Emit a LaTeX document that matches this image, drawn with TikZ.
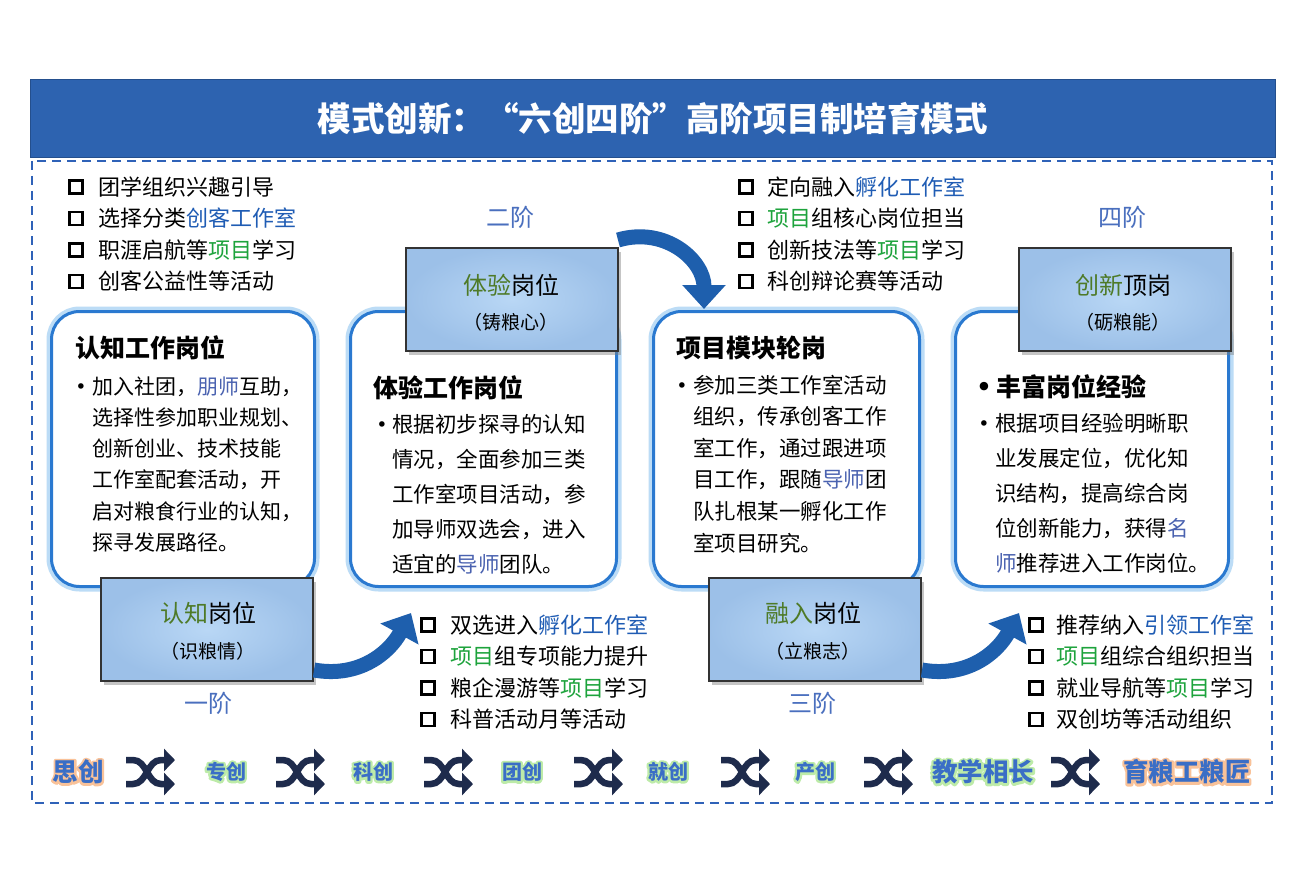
\documentclass[tikz,border=0pt]{standalone}
\usepackage{fontspec}
\setmainfont{Noto Sans CJK SC}
\newfontfamily\bulfont{DejaVu Sans}
\usetikzlibrary{arrows.meta,shadows}
\definecolor{titlebg}{HTML}{2D63B0}
\definecolor{framec}{HTML}{2F62B8}
\definecolor{cardc}{HTML}{2A79D0}
\definecolor{glowc}{HTML}{BCDCF6}
\definecolor{boxfill}{HTML}{B9D7F5}
\definecolor{boxedge}{HTML}{9CC0E8}
\definecolor{olivec}{HTML}{4E7A27}
\definecolor{stagec}{HTML}{4A6FBE}
\definecolor{wordblue}{HTML}{1F5CB4}
\definecolor{wordgreen}{HTML}{1DA33C}
\definecolor{tutorc}{HTML}{4A62B0}
\definecolor{arrowc}{HTML}{1E5FAD}
\definecolor{navyc}{HTML}{1E2B4C}
\definecolor{rowtext}{HTML}{3A6EC6}
\newcommand\bw[1]{\textcolor{wordblue}{#1}}
\newcommand\gw[1]{\textcolor{wordgreen}{#1}}
\newcommand\tw[1]{\textcolor{tutorc}{#1}}
\newcommand\ow[1]{\textcolor{olivec}{#1}}
\newcommand\setfs[1]{\fontsize{#1}{#1}\selectfont}
% glow: a stroked-only copy underneath, then the filled text
\newcommand\glowtext[2]{\rlap{\special{pdf:literal direct 1 Tr 4.5 w 1 j 1 J #1 RG}#2\special{pdf:literal direct 0 Tr}}#2}
\newcommand\orglow{0.976 0.76 0.60}
\newcommand\grglow{0.74 0.92 0.66}
\begin{document}
\begin{tikzpicture}[x=1pt,y=-1pt,
  titlebar/.style={fill=titlebg, draw=titlebg!80!black, line width=1, minimum width=1245, minimum height=78, text=white, font=\bfseries\setfs{33.5}, inner sep=0},
  frame/.style={draw=framec, line width=2.5, dash pattern=on 9pt off 6pt},
  card/.style={draw=cardc, line width=3, rounded corners=28, fill=white, preaction={draw=glowc, line width=10}, inner sep=0},
  lbox/.style={draw=black!80, line width=2, inner color=boxfill, outer color=boxedge, minimum width=212, minimum height=103, anchor=north west, inner sep=0, drop shadow={shadow xshift=3pt, shadow yshift=-4pt, opacity=0.45}},
  chk/.style={draw=black, line width=2.8, minimum size=13, inner sep=0},
  itm/.style={anchor=base west, font=\setfs{22}, inner sep=0},
  ctitle/.style={anchor=base west, font=\bfseries\setfs{25}, inner sep=0},
  bul/.style={anchor=base, font=\bulfont\setfs{19}, inner sep=0},
  bodyA/.style={anchor=base west, font=\setfs{21}, inner sep=0},
  bodyB/.style={anchor=base west, font=\setfs{21.5}, inner sep=0},
  btitle/.style={font=\setfs{24}, inner sep=0},
  bsub/.style={font=\setfs{19}, inner sep=0},
  stage/.style={font=\setfs{24}, text=stagec, inner sep=0},
  bigarrow/.style={draw=arrowc, line width=15, -{Triangle[length=24pt,width=42pt]}},
  shuf/.style={draw=navyc, line width=6.5, -{Triangle[length=11pt,width=22pt]}},
  rowsmall/.style={font=\bfseries\setfs{20}, text=rowtext, inner sep=0},
  rowbig/.style={font=\bfseries\setfs{25.5}, text=rowtext, inner sep=0},
  shuffle/.pic={
    \draw[shuf] (-24,-12) -- (-17,-12) .. controls (-3,-12) and (-3,12) .. (11,12) -- (25,12);
    \draw[shuf] (-24,12) -- (-17,12) .. controls (-3,12) and (-3,-12) .. (11,-12) -- (25,-12);
  }
]
\useasboundingbox (0,0) rectangle (1300,869);
\fill[white] (0,0) rectangle (1300,869);

% title and frame
\node[titlebar] (title) at (652.5,119) {模式创新：“六创四阶”高阶项目制培育模式};
\draw[frame] (32,161) rectangle (1272,803);

% cards
\node[card, minimum width=263, minimum height=275, anchor=north west] (c1) at (50,310) {};
\node[card, minimum width=266, minimum height=275, anchor=north west] (c2) at (349,310) {};
\node[card, minimum width=266, minimum height=275, anchor=north west] (c3) at (652,310) {};
\node[card, minimum width=273, minimum height=275, anchor=north west] (c4) at (954,310) {};

% label boxes
\node[lbox] (b1) at (100,577) {};
\node[lbox] (b2) at (405,247) {};
\node[lbox] (b3) at (708,577) {};
\node[lbox] (b4) at (1018,247) {};

% arrows
\coordinate (e1) at (411,613);
\coordinate (e2) at (704,309);
\coordinate (e3) at (1019,613);
\draw[bigarrow] ([yshift=12pt]b1.south east) .. controls +(45,8) and +(-22,40) .. (e1);
\draw[bigarrow] ([xshift=-1pt,yshift=7pt]b2.north east) .. controls +(48,-14) and +(0,-48) .. (e2);
\draw[bigarrow] ([yshift=12pt]b3.south east) .. controls +(45,8) and +(-22,40) .. (e3);

\node[btitle] (b1a) at (208,613) {\ow{认知}岗位};
\node[bsub] (b1b) at (208,651) {（识粮情）};
\node[btitle] (b2a) at (511,285) {\ow{体验}岗位};
\node[bsub] (b2b) at (511,322) {（铸粮心）};
\node[btitle] (b3a) at (813,613) {\ow{融入}岗位};
\node[bsub] (b3b) at (813,651) {（立粮志）};
\node[btitle] (b4a) at (1123,285) {\ow{创新}顶岗};
\node[bsub] (b4b) at (1123,322) {（砺粮能）};

% stage labels
\node[stage] (s1) at (208,703) {一阶};
\node[stage] (s2) at (510,217) {二阶};
\node[stage] (s3) at (812,703) {三阶};
\node[stage] (s4) at (1122,217) {四阶};

% check lists
\foreach \txt [count=\i] in {团学组织兴趣引导, 选择分类\bw{创客工作室}, 职涯启航等\gw{项目}学习, 创客公益性等活动}{
  \node[chk] (ka\i) at (76,{187+(\i-1)*31.5}) {};
  \node[itm] (la\i) at (98,{195+(\i-1)*31.5}) {\txt};
}
\foreach \txt [count=\i] in {定向融入\bw{孵化工作室}, \gw{项目}组核心岗位担当, 创新技法等\gw{项目}学习, 科创辩论赛等活动}{
  \node[chk] (kb\i) at (746,{187+(\i-1)*31.5}) {};
  \node[itm] (lb\i) at (767,{195+(\i-1)*31.5}) {\txt};
}
\foreach \txt [count=\i] in {双选进入\bw{孵化工作室}, \gw{项目}组专项能力提升, 粮企漫游等\gw{项目}学习, 科普活动月等活动}{
  \node[chk] (kc\i) at (428,{625+(\i-1)*31.5}) {};
  \node[itm] (lc\i) at (450,{633+(\i-1)*31.5}) {\txt};
}
\foreach \txt [count=\i] in {推荐纳入\bw{引领工作室}, \gw{项目}组综合组织担当, 就业导航等\gw{项目}学习, 双创坊等活动组织}{
  \node[chk] (kd\i) at (1036,{625+(\i-1)*31.5}) {};
  \node[itm] (ld\i) at (1056,{633+(\i-1)*31.5}) {\txt};
}

% card 1
\node[ctitle] (c1t) at (75,357) {认知工作岗位};
\node[bul] (c1u) at (81,393) {•};
\foreach \txt [count=\i] in {加入社团，\tw{朋师}互助，, 选择性参加职业规划、, 创新创业、技术技能, 工作室配套活动，开, 启对粮食行业的认知，, 探寻发展路径。}{
  \node[bodyA] (c1l\i) at (92,{394+(\i-1)*31.3}) {\txt};
}
% card 2
\node[ctitle] (c2t) at (373,397) {体验工作岗位};
\node[bul] (c2u) at (382,431) {•};
\foreach \txt [count=\i] in {根据初步探寻的认知, 情况，全面参加三类, 工作室项目活动，参, 加导师双选会，进入, 适宜的\tw{导师}团队。}{
  \node[bodyB] (c2l\i) at (392,{432+(\i-1)*35}) {\txt};
}
% card 3
\node[ctitle] (c3t) at (676,357) {项目模块轮岗};
\node[bul] (c3u) at (682,392) {•};
\foreach \txt [count=\i] in {参加三类工作室活动, 组织，传承创客工作, 室工作，通过跟进项, 目工作，跟随\tw{导师}团, 队扎根某一孵化工作, 室项目研究。}{
  \node[bodyB] (c3l\i) at (693,{393+(\i-1)*31.6}) {\txt};
}
% card 4
\node[bul, font=\bulfont\bfseries\setfs{24}] (c4u0) at (984,395) {•};
\node[ctitle] (c4t) at (996,396) {丰富岗位经验};
\node[bul] (c4u) at (984,430) {•};
\foreach \txt [count=\i] in {根据项目经验明晰职, 业发展定位，优化知, 识结构，提高综合岗, 位创新能力，获得\tw{名}, \tw{师}推荐进入工作岗位。}{
  \node[bodyB] (c4l\i) at (995,{431+(\i-1)*35}) {\txt};
}

% bottom row
\node[rowbig] (r1) at (78,772) {\glowtext{\orglow}{思创}};
\pic (sh1) at (150,772) {shuffle};
\node[rowsmall] (r2) at (226,772) {\glowtext{\grglow}{专创}};
\pic (sh2) at (300,772) {shuffle};
\node[rowsmall] (r3) at (373,772) {\glowtext{\grglow}{科创}};
\pic (sh3) at (448,772) {shuffle};
\node[rowsmall] (r4) at (522,772) {\glowtext{\grglow}{团创}};
\pic (sh4) at (598,772) {shuffle};
\node[rowsmall] (r5) at (668,772) {\glowtext{\grglow}{就创}};
\pic (sh5) at (745,772) {shuffle};
\node[rowsmall] (r6) at (815,772) {\glowtext{\grglow}{产创}};
\pic (sh6) at (888,772) {shuffle};
\node[rowbig] (r7) at (983,772) {\glowtext{\grglow}{教学相长}};
\pic (sh7) at (1075,772) {shuffle};
\node[rowbig] (r8) at (1187,772) {\glowtext{\orglow}{育粮工粮匠}};
\end{tikzpicture}
\end{document}
